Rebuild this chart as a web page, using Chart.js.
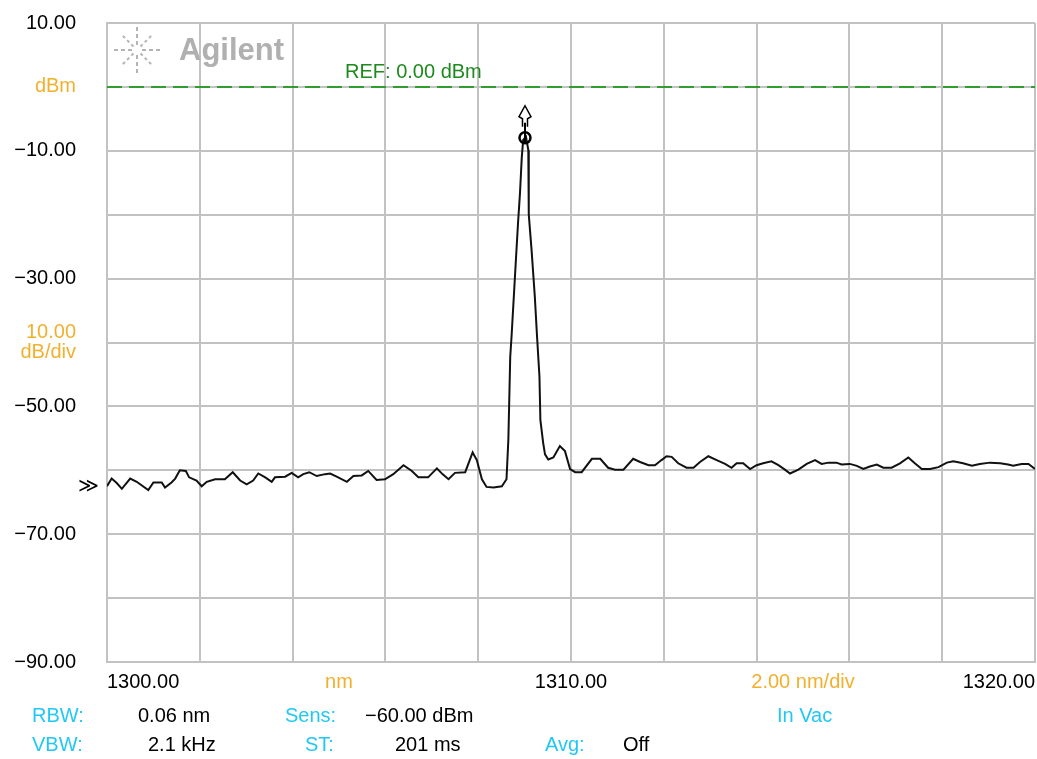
<!DOCTYPE html>
<html><head><meta charset="utf-8">
<script src="https://cdn.jsdelivr.net/npm/chart.js@4/dist/chart.umd.min.js"></script>
<style>html,body{margin:0;padding:0;background:#fff;}canvas{display:block;}</style>
</head><body>
<canvas id="c" width="1037" height="759"></canvas>
<script>
// ---- data ----
const wavelengthNm = [
1300.00,1300.10,1300.21,1300.32,1300.50,1300.64,1300.89,1301.00,1301.18,1301.25,
1301.39,1301.47,1301.57,1301.70,1301.77,1301.93,1302.04,1302.15,1302.33,1302.54,
1302.71,1302.87,1303.01,1303.15,1303.26,1303.41,1303.55,1303.62,1303.84,1303.98,
1304.12,1304.23,1304.36,1304.52,1304.70,1304.81,1304.95,1305.17,1305.31,1305.49,
1305.63,1305.81,1305.99,1306.17,1306.39,1306.57,1306.71,1306.92,1307.11,1307.23,
1307.36,1307.50,1307.72,1307.88,1307.97,1308.08,1308.18,1308.33,1308.51,1308.61,
1308.65,1308.69,1308.72,1308.81,1308.86,1308.90,1308.94,1308.97,1309.03,1309.08,
1309.09,1309.15,1309.22,1309.27,1309.32,1309.34,1309.40,1309.44,1309.51,1309.62,
1309.76,1309.87,1309.98,1310.09,1310.23,1310.45,1310.63,1310.80,1310.95,1311.13,
1311.34,1311.49,1311.67,1311.81,1311.95,1312.06,1312.17,1312.31,1312.49,1312.64,
1312.78,1312.96,1313.14,1313.32,1313.46,1313.57,1313.71,1313.86,1314.00,1314.14,
1314.32,1314.47,1314.61,1314.72,1314.90,1315.08,1315.26,1315.40,1315.55,1315.72,
1315.83,1316.01,1316.16,1316.30,1316.44,1316.59,1316.73,1316.91,1317.09,1317.27,
1317.41,1317.56,1317.74,1317.92,1318.10,1318.24,1318.45,1318.64,1318.81,1319.03,
1319.25,1319.42,1319.53,1319.71,1319.86,1320.00];
const powerDbm = [
-62.5,-61.3,-62.0,-62.9,-61.3,-61.8,-63.1,-61.9,-61.9,-62.7,
-61.9,-61.3,-60.0,-60.1,-61.1,-61.6,-62.5,-61.8,-61.4,-61.4,
-60.3,-61.6,-62.2,-61.6,-60.5,-61.1,-61.8,-61.1,-61.0,-60.4,
-61.1,-60.6,-60.3,-60.9,-60.6,-60.5,-61.0,-61.8,-60.9,-60.8,
-60.1,-61.5,-61.4,-60.6,-59.2,-60.1,-61.1,-61.1,-59.7,-60.6,
-61.4,-60.4,-60.3,-57.2,-58.4,-61.4,-62.6,-62.7,-62.5,-61.4,
-55.2,-42.3,-38.9,-27.4,-21.1,-16.7,-10.9,-8.3,-7.8,-9.9,
-20.0,-25.5,-32.8,-39.3,-45.3,-52.1,-55.7,-57.5,-58.3,-58.0,
-56.2,-57.0,-59.8,-60.3,-60.3,-58.2,-58.2,-59.6,-59.9,-59.9,
-58.2,-58.7,-59.2,-59.2,-58.4,-57.8,-57.9,-58.9,-59.6,-59.6,
-58.7,-57.8,-58.4,-59.0,-59.6,-58.9,-58.9,-59.8,-59.2,-58.9,
-58.6,-59.2,-59.9,-60.5,-59.9,-59.0,-58.4,-59.0,-58.8,-58.8,
-59.1,-59.0,-59.3,-59.8,-59.4,-59.1,-59.6,-59.6,-58.9,-58.0,
-58.9,-59.8,-59.8,-59.5,-58.8,-58.6,-58.9,-59.3,-59.0,-58.8,
-58.9,-59.1,-59.3,-59.0,-59.0,-59.8];
const refLevelDbm = 0;
const refLabel = 'REF: 0.00 dBm';
const yTickValues = [10, 0, -10, -30, -40, -50, -70, -90];
const yTickLabels = ['10.00', 'dBm', '−10.00', '−30.00', ['10.00', 'dB/div'], '−50.00', '−70.00', '−90.00'];
const yTickIsUnit = [false, true, false, false, true, false, false, false];
const xLabelValues = [1300, 1305, 1310, 1315, 1320];
const xLabelTexts = ['1300.00', 'nm', '1310.00', '2.00 nm/div', '1320.00'];
const xLabelIsUnit = [false, true, false, true, false];
const infoLabels = ['RBW:', '0.06 nm', 'Sens:', '−60.00 dBm', 'In Vac', 'VBW:', '2.1 kHz', 'ST:', '201 ms', 'Avg:', 'Off'];
const infoIsKey = [true, false, true, false, true, true, false, true, false, true, false];

// ---- styling / layout (not data) ----
const FONT = '"Liberation Sans", Arial, sans-serif';
const ORANGE = '#f2b02e';
const CYAN = '#22c8f5';
const GRID = '#c2c2c2';
const GREEN = '#2f9e2f';
const infoPos = [[32,716],[138,716],[285,716],[365,716],[777,716],[32,745],[148,745],[305,745],[395,745],[545,745],[623,745]];

const xAlign = (i, n) => i === 0 ? 'left' : (i === n - 1 ? 'right' : 'center');

const decorPlugin = {
  id: 'decor',
  beforeDatasetsDraw(chart) {
    const ctx = chart.ctx;
    ctx.save();
    const cx = 137, cy = 50;
    ctx.strokeStyle = '#b4b4b4';
    ctx.lineWidth = 2;
    for (let k = 0; k < 8; k++) {
      const a = k * Math.PI / 4;
      const segs = (k % 2 === 0) ? [[5, 9], [12, 16], [19, 23]] : [[5, 8], [11, 14], [17, 20]];
      for (const [r0, r1] of segs) {
        ctx.beginPath();
        ctx.moveTo(cx + r0 * Math.cos(a), cy + r0 * Math.sin(a));
        ctx.lineTo(cx + r1 * Math.cos(a), cy + r1 * Math.sin(a));
        ctx.stroke();
      }
    }
    ctx.fillStyle = '#b0b0b0';
    ctx.font = 'bold 31px ' + FONT;
    ctx.textAlign = 'left';
    ctx.textBaseline = 'middle';
    ctx.fillText('Agilent', 179, 51);
    ctx.restore();
  },
  afterDraw(chart) {
    const ctx = chart.ctx;
    const xs = chart.scales.x, ys = chart.scales.y;
    ctx.save();
    ctx.font = '20px ' + FONT;
    ctx.textBaseline = 'middle';
    const yLab = chart.chartArea.bottom + 20;
    xLabelValues.forEach((v, i) => {
      ctx.fillStyle = xLabelIsUnit[i] ? ORANGE : '#000';
      ctx.textAlign = xAlign(i, xLabelValues.length);
      ctx.fillText(xLabelTexts[i], xs.getPixelForValue(v), yLab);
    });
    ctx.textAlign = 'left';
    infoLabels.forEach((t, i) => {
      ctx.fillStyle = infoIsKey[i] ? CYAN : '#000';
      ctx.fillText(t, infoPos[i][0], infoPos[i][1]);
    });
    ctx.fillStyle = '#1d8a1d';
    ctx.fillText(refLabel, xs.getPixelForValue(1305.13), ys.getPixelForValue(refLevelDbm) - 14);
    ctx.fillStyle = '#000';
    ctx.textAlign = 'right';
    ctx.font = '20px "DejaVu Sans", sans-serif';
    ctx.fillText('≫', chart.chartArea.left - 8, ys.getPixelForValue(powerDbm[0]) + 1);
    // peak marker
    let im = 0;
    powerDbm.forEach((p, i) => { if (p > powerDbm[im]) im = i; });
    const px = xs.getPixelForValue(wavelengthNm[im]) - 1, py = ys.getPixelForValue(powerDbm[im]);
    ctx.strokeStyle = '#000';
    ctx.lineWidth = 1.5;
    ctx.beginPath();
    ctx.moveTo(px + 2.5, py - 10);
    ctx.lineTo(px + 2.5, py - 18);
    ctx.lineTo(px + 6, py - 20);
    ctx.lineTo(px, py - 31);
    ctx.lineTo(px - 6, py - 20);
    ctx.lineTo(px - 2.5, py - 18);
    ctx.lineTo(px - 2.5, py - 10);
    ctx.stroke();
    ctx.lineWidth = 2.5;
    ctx.beginPath();
    ctx.arc(px, py + 1, 5.5, 0, Math.PI * 2);
    ctx.stroke();
    ctx.lineWidth = 2;
    ctx.beginPath();
    ctx.moveTo(px, py - 14);
    ctx.lineTo(px, py + 6);
    ctx.stroke();
    ctx.restore();
  }
};

new Chart(document.getElementById('c'), {
  type: 'line',
  data: {
    datasets: [
      {
        label: 'REF',
        data: [{x: 1300, y: refLevelDbm}, {x: 1320, y: refLevelDbm}],
        borderColor: GREEN, borderWidth: 2, borderDash: [15, 7],
        pointRadius: 0, fill: false, order: 2
      },
      {
        label: 'Trace',
        data: wavelengthNm.map((w, i) => ({x: w, y: powerDbm[i]})),
        borderColor: '#111', borderWidth: 2, tension: 0,
        pointRadius: 0, fill: false, order: 1
      }
    ]
  },
  options: {
    responsive: false,
    devicePixelRatio: 1,
    animation: false,
    layout: {padding: {top: 23, right: 2, left: 0, bottom: 0}},
    plugins: {legend: {display: false}, tooltip: {enabled: false}},
    scales: {
      x: {
        type: 'linear', min: 1300, max: 1320,
        ticks: {display: false, stepSize: 2},
        grid: {color: GRID, lineWidth: 2, drawTicks: false},
        border: {color: GRID, width: 2},
        afterFit(s) { s.height = 97; s.paddingLeft = 0; s.paddingRight = 0; }
      },
      y: {
        type: 'linear', min: -90, max: 10,
        ticks: {
          stepSize: 10, padding: 31, autoSkip: false,
          font: {family: FONT, size: 20, lineHeight: 1.0},
          color: (c) => { const i = yTickValues.indexOf(c.tick.value); return (i >= 0 && yTickIsUnit[i]) ? ORANGE : '#000'; },
          callback: (v) => { const i = yTickValues.indexOf(v); return i >= 0 ? yTickLabels[i] : ''; }
        },
        grid: {color: GRID, lineWidth: 2, drawTicks: false},
        border: {color: GRID, width: 2},
        afterFit(s) { s.width = 107; s.paddingTop = 0; s.paddingBottom = 0; }
      }
    }
  },
  plugins: [decorPlugin]
});
</script>
</body></html>
